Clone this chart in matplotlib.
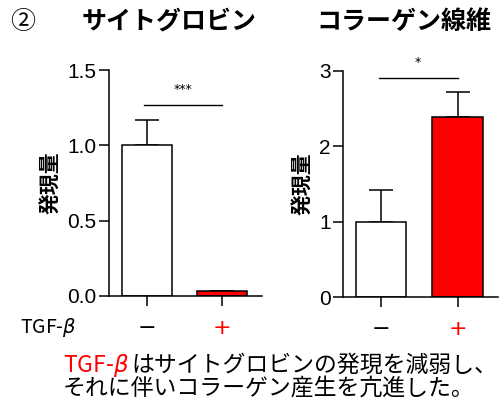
import numpy as np
import matplotlib
matplotlib.use("Agg")
import matplotlib.pyplot as plt

plt.rcParams['font.family'] = ['Noto Sans CJK JP', 'DejaVu Sans']

# data
groups = ['−', '+']
cygb_mean = [1.0, 0.035]
cygb_err = [0.17, 0.0]
col_mean = [1.0, 2.39]
col_err = [0.42, 0.33]
bar_colors = ['white', '#ff0000']
tick_colors = ['black', '#ff0000']

fig = plt.figure(figsize=(5.03, 4.12), dpi=100)
ax1 = fig.add_axes([0.2167, 0.2816, 0.304, 0.548])
ax2 = fig.add_axes([0.682, 0.279, 0.308, 0.549])


def draw_panel(ax, means, errs, ylim, yticks, fmt, sig_y, sig_text):
    x = np.arange(len(means))
    ax.bar(x, means, width=0.66, color=bar_colors, edgecolor='black', linewidth=1.1, zorder=2)
    ax.errorbar(x, means, yerr=[np.zeros(len(errs)), errs], fmt='none', ecolor='black',
                elinewidth=1.1, capsize=8.5, capthick=1.1, zorder=1)
    ax.set_xlim(-0.5, 1.53)
    ax.set_ylim(*ylim)
    ax.set_yticks(yticks)
    ax.set_yticklabels([fmt.format(v) for v in yticks], fontsize=15, family=['Liberation Sans'])
    ax.set_xticks(x)
    ax.set_xticklabels([])
    ax.tick_params(axis='both', length=7, width=1.1, color='black', pad=2)
    for s in ['top', 'right']:
        ax.spines[s].set_visible(False)
    for s in ['left', 'bottom']:
        ax.spines[s].set_linewidth(1.1)
    # group labels under the ticks
    for xi, g, c in zip(x, groups, tick_colors):
        ax.annotate(g, xy=(xi, 0), xycoords=('data', 'axes fraction'), xytext=(0, -23),
                    textcoords='offset points', ha='center', va='center', color=c,
                    fontsize=16, family=['DejaVu Sans'])
    ax.plot([-0.03, 1.0], [sig_y, sig_y], color='black', lw=1.0, clip_on=False)
    ax.text(0.48, sig_y + (ylim[1] - ylim[0]) * 0.04, sig_text, ha='center', va='bottom',
            fontsize=9, family=['DejaVu Sans'])
    ax.set_ylabel('発現量', fontsize=15, fontweight='bold', labelpad=4)


draw_panel(ax1, cygb_mean, cygb_err, (0, 1.5), [0.0, 0.5, 1.0, 1.5], '{:.1f}', 1.27, '***')
draw_panel(ax2, col_mean, col_err, (0, 3), [0, 1, 2, 3], '{:.0f}', 2.9, '*')

fig.text(0.02, 0.947, '②', fontsize=18, ha='left', va='center')
fig.text(0.336, 0.947, 'サイトグロビン', fontsize=18, fontweight='bold', ha='center', va='center')
fig.text(0.803, 0.947, 'コラーゲン線維', fontsize=18, fontweight='bold', ha='center', va='center')
fig.text(0.04, 0.204, 'TGF-$\\beta$', fontsize=14, ha='left', va='center')

# caption, first word in red
t1 = fig.text(0.125, 0.114, 'TGF-$\\beta$', fontsize=16.5, color='#ff0000', ha='left', va='center')
fig.canvas.draw()
bb = t1.get_window_extent()
x_next = bb.x1 / fig.bbox.width + 0.004
fig.text(x_next, 0.114, 'はサイトグロビンの発現を減弱し、', fontsize=16.5, ha='left', va='center')
fig.text(0.125, 0.058, 'それに伴いコラーゲン産生を亢進した。', fontsize=16.5, ha='left', va='center')

fig.savefig('out.png', dpi=100)
